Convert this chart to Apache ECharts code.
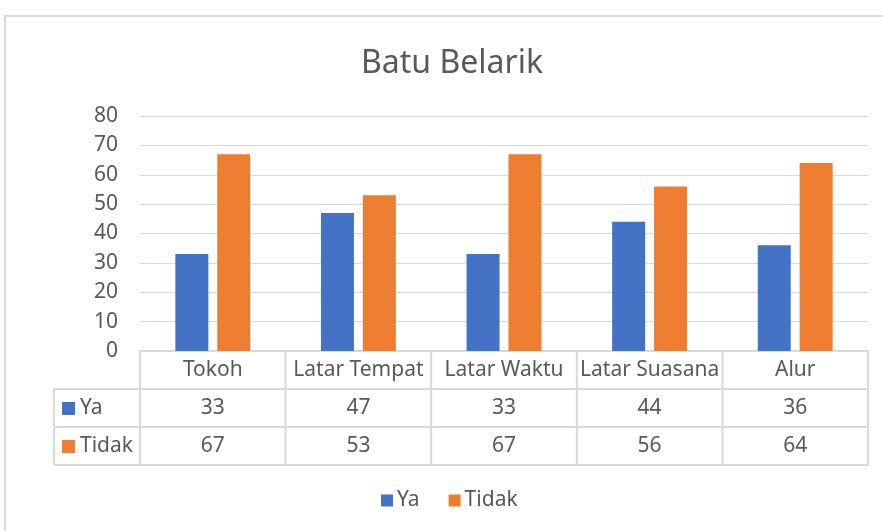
<!DOCTYPE html>
<html>
<head>
<meta charset="utf-8">
<title>Batu Belarik</title>
<script src="https://cdn.jsdelivr.net/npm/echarts@6/dist/echarts.min.js"></script>
</head>
<body style="margin:0">
	<div id="main" style="width: 883px; height: 531px;"></div>
	<script type="text/javascript">
		// data
		var categories = ['Tokoh', 'Latar Tempat', 'Latar Waktu', 'Latar Suasana', 'Alur'];
		var ya = [33, 47, 33, 44, 36];
		var tidak = [67, 53, 67, 56, 64];
		var yTicks = [0, 10, 20, 30, 40, 50, 60, 70, 80];

		var FONT = '"Noto Sans", sans-serif';
		var TXT = '#595959';
		var LINE = '#d9d9d9';
		var BLUE = '#4472C4';
		var ORANGE = '#ED7D31';
		var FS = 21;

		var myChart = echarts.init(document.getElementById('main'));

		var option = {
			animation: false,
			title: {
				text: 'Batu Belarik',
				left: 356,
				top: 43,
				textStyle: { fontFamily: FONT, fontSize: 32, fontWeight: 'normal', color: TXT }
			},
			legend: {
				bottom: 15,
				left: 376,
				itemWidth: 12,
				itemHeight: 12,
				itemGap: 29,
				icon: 'rect',
				data: ['Ya', 'Tidak'],
				textStyle: { fontFamily: FONT, fontSize: FS, color: TXT, padding: [0, 0, 0, -1] }
			},
			grid: { left: 140, right: 15, top: 116, bottom: 180, containLabel: false },
			xAxis: {
				type: 'category',
				data: categories,
				axisLine: { show: false },
				axisTick: { show: false },
				axisLabel: { show: false }
			},
			yAxis: {
				type: 'value',
				min: yTicks[0],
				max: yTicks[yTicks.length - 1],
				interval: 10,
				axisLine: { show: false },
				axisTick: { show: false },
				axisLabel: { fontFamily: FONT, fontSize: FS, color: TXT, margin: 22 },
				splitLine: { lineStyle: { color: LINE, width: 1 } }
			},
			series: [
				{ name: 'Ya', type: 'bar', data: ya, barWidth: 33, barGap: '27%', itemStyle: { color: BLUE } },
				{ name: 'Tidak', type: 'bar', data: tidak, barWidth: 33, itemStyle: { color: ORANGE } }
			]
		};
		myChart.setOption(option);

		// data table under the plot, built from the same arrays
		function buildTable() {
			var x0 = myChart.convertToPixel({ gridIndex: 0 }, [0, 0]);
			var left = 140, right = 868;
			var top = x0[1];
			var colW = (right - left) / categories.length;
			var rowH = 38;
			var labelLeft = 54;
			var els = [];
			var ln = function (x1, y1, x2, y2) {
				els.push({ type: 'line', shape: { x1: x1, y1: y1, x2: x2, y2: y2 },
					style: { stroke: LINE, lineWidth: 2 }, silent: true });
			};
			var txt = function (x, y, s, align) {
				els.push({ type: 'text', x: x, y: y, silent: true,
					style: { text: s, fontFamily: FONT, fontSize: FS, fill: TXT,
						align: align || 'center', verticalAlign: 'middle' } });
			};
			// horizontal lines
			ln(left, top, right, top);
			ln(labelLeft, top + rowH, right, top + rowH);
			ln(labelLeft, top + rowH * 2, right, top + rowH * 2);
			ln(labelLeft, top + rowH * 3, right, top + rowH * 3);
			// vertical lines
			ln(labelLeft, top + rowH, labelLeft, top + rowH * 3);
			for (var c = 0; c <= categories.length; c++) {
				ln(left + c * colW, top, left + c * colW, top + rowH * 3);
			}
			var rows = [ya, tidak];
			var names = ['Ya', 'Tidak'];
			var colors = [BLUE, ORANGE];
			for (var i = 0; i < categories.length; i++) {
				var cx = myChart.convertToPixel({ xAxisIndex: 0 }, i);
				txt(cx, top + rowH / 2, categories[i]);
				for (var r = 0; r < rows.length; r++) {
					txt(cx, top + rowH * (r + 1) + rowH / 2, String(rows[r][i]));
				}
			}
			for (var r = 0; r < names.length; r++) {
				var cy = top + rowH * (r + 1) + rowH / 2;
				els.push({ type: 'rect', shape: { x: 62, y: cy - 6, width: 13, height: 13 },
					style: { fill: colors[r] }, silent: true });
				txt(80, cy, names[r], 'left');
			}
			// chart border
			els.push({ type: 'rect', shape: { x: 5, y: 16, width: 900, height: 600 },
				style: { fill: 'none', stroke: LINE, lineWidth: 2 }, silent: true });
			myChart.setOption({ graphic: els });
		}
		buildTable();
	</script>
</body>
</html>
